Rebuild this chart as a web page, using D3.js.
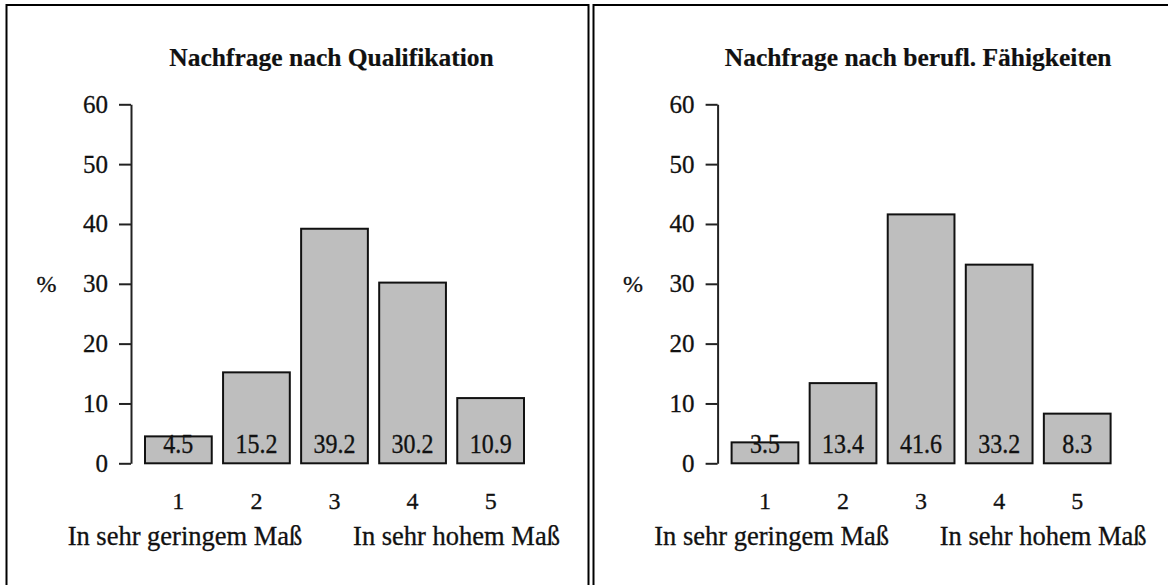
<!DOCTYPE html>
<html>
<head>
<meta charset="utf-8">
<script src="https://cdn.jsdelivr.net/npm/d3@7"></script>
<style>
  html, body { margin: 0; padding: 0; background: #fff; }
  svg { display: block; }
  text { font-family: "Liberation Serif", "Times New Roman", serif; fill: #111; stroke: #111; stroke-width: 0.3; }
</style>
</head>
<body>
<svg id="chart" width="1168" height="585"></svg>
<script>
// Data
const categories = ["1", "2", "3", "4", "5"];
const qualificationValues = [4.5, 15.2, 39.2, 30.2, 10.9];
const skillValues = [3.5, 13.4, 41.6, 33.2, 8.3];
const panelTitles = ["Nachfrage nach Qualifikation", "Nachfrage nach berufl. Fähigkeiten"];
const yTicks = [0, 10, 20, 30, 40, 50, 60];
const lowLabel = "In sehr geringem Maß";
const highLabel = "In sehr hohem Maß";
const yLabel = "%";

const panels = [
  { title: panelTitles[0], values: qualificationValues, dx: 0 },
  { title: panelTitles[1], values: skillValues, dx: 586.6 }
];

const svg = d3.select("#chart");

// Frames around each panel
svg.append("rect")
  .attr("x", 6.5).attr("y", 5).attr("width", 582).attr("height", 600)
  .attr("fill", "none").attr("stroke", "#000").attr("stroke-width", 2);
svg.append("rect")
  .attr("x", 593.5).attr("y", 5).attr("width", 600).attr("height", 600)
  .attr("fill", "none").attr("stroke", "#000").attr("stroke-width", 2);

const x = d3.scaleBand()
  .domain(categories)
  .range([145, 524])
  .paddingInner(0.145)
  .paddingOuter(0);

const y = d3.scaleLinear()
  .domain([0, 60])
  .range([463.3, 104.3]);

panels.forEach(p => {
  const g = svg.append("g").attr("transform", `translate(${p.dx},0)`);

  // Title
  g.append("text")
    .attr("x", 331.5).attr("y", 66)
    .attr("text-anchor", "middle")
    .attr("font-size", 25.5)
    .attr("font-weight", "bold")
    .style("stroke-width", 0.2)
    .text(p.title);

  // Y axis
  const yAxis = d3.axisLeft(y)
    .tickValues(yTicks)
    .tickSize(12)
    .tickSizeOuter(0)
    .tickPadding(11)
    .tickFormat(d3.format("d"));
  const ax = g.append("g")
    .attr("transform", "translate(131,0)")
    .call(yAxis);
  ax.select(".domain").attr("stroke", "#222").attr("stroke-width", 2);
  ax.selectAll(".tick line").attr("stroke", "#222").attr("stroke-width", 2);
  ax.selectAll(".tick text")
    .attr("font-family", "Liberation Serif, Times New Roman, serif")
    .attr("font-size", 25)
    .attr("fill", "#111");

  // Y label
  g.append("text")
    .attr("x", 46.5).attr("y", y(30))
    .attr("dy", "0.35em")
    .attr("text-anchor", "middle")
    .attr("font-size", 24)
    .text(yLabel);

  // Bars
  g.selectAll("rect.bar")
    .data(p.values)
    .join("rect")
    .attr("class", "bar")
    .attr("x", (d, i) => x(categories[i]))
    .attr("y", d => y(d))
    .attr("width", x.bandwidth())
    .attr("height", d => y(0) - y(d))
    .attr("fill", "#bebebe")
    .attr("stroke", "#111")
    .attr("stroke-width", 2);

  // Value labels inside bars (slightly tall glyphs)
  g.selectAll("text.val")
    .data(p.values)
    .join("text")
    .attr("class", "val")
    .attr("transform", (d, i) =>
      `translate(${x(categories[i]) + x.bandwidth() / 2},${y(0) - 10.5}) scale(1,1.1)`)
    .attr("text-anchor", "middle")
    .attr("font-size", 24)
    .text(d => d3.format(".1f")(d));

  // Category numbers
  g.selectAll("text.cat")
    .data(categories)
    .join("text")
    .attr("class", "cat")
    .attr("x", d => x(d) + x.bandwidth() / 2)
    .attr("y", 509)
    .attr("text-anchor", "middle")
    .attr("font-size", 24)
    .text(d => d);

  // Scale end descriptions
  g.append("text")
    .attr("x", 185).attr("y", 545)
    .attr("text-anchor", "middle")
    .attr("font-size", 26.5)
    .text(lowLabel);
  g.append("text")
    .attr("x", 456.5).attr("y", 545)
    .attr("text-anchor", "middle")
    .attr("font-size", 26.5)
    .text(highLabel);
});
</script>
</body>
</html>
